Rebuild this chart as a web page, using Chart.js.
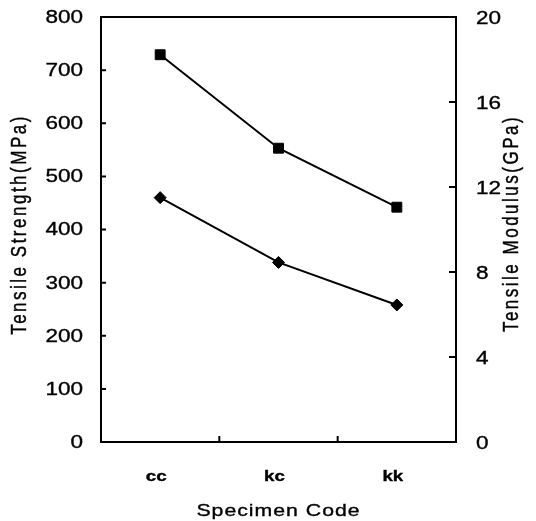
<!DOCTYPE html>
<html>
<head>
<meta charset="utf-8">
<script src="https://cdn.jsdelivr.net/npm/chart.js@4.4.1/dist/chart.umd.min.js"></script>
<style>
  html, body { margin: 0; padding: 0; background: #fff; }
  #wrap { width: 536px; height: 521px; }
</style>
</head>
<body>
<div id="wrap"><canvas id="tensile-chart" width="536" height="521"></canvas></div>
<script>
const SPECIMENS = ['cc', 'kc', 'kk'];
const STRENGTH_MPA = [729, 553, 442];
const MODULUS_GPA = [11.5, 8.45, 6.45];
const STRENGTH_TICKS = [0, 100, 200, 300, 400, 500, 600, 700, 800];
const MODULUS_TICKS = [0, 4, 8, 12, 16, 20];

const X_TITLE = 'Specimen Code';
const LEFT_TITLE = 'Tensile Strength(MPa)';
const RIGHT_TITLE = 'Tensile Modulus(GPa)';

// the scanned original is a bit wider than it is tall, so text is stretched
const STRETCH = 1.25;
const FONT = '"Liberation Sans", Arial, sans-serif';

function drawText(ctx, text, x, y, opts) {
  ctx.save();
  ctx.translate(x, y);
  ctx.scale(STRETCH, 1);
  if (opts.rotate) ctx.rotate(-Math.PI / 2);
  ctx.font = opts.font;
  ctx.letterSpacing = opts.spacing || '0px';
  ctx.textAlign = opts.align || 'center';
  ctx.textBaseline = 'middle';
  ctx.fillStyle = '#000';
  ctx.strokeStyle = '#000';
  ctx.lineWidth = 0.35;
  ctx.fillText(text, 0, 0);
  ctx.strokeText(text, 0, 0);
  ctx.restore();
}

const axesPlugin = {
  id: 'scanAxes',
  afterDraw(chart) {
    const ctx = chart.ctx;
    const area = chart.chartArea;
    const x = chart.scales.x;
    const y = chart.scales.y;
    const y1 = chart.scales.y1;

    ctx.save();
    ctx.strokeStyle = '#000';
    ctx.lineWidth = 2;
    ctx.strokeRect(area.left, area.top, area.right - area.left, area.bottom - area.top);

    // inward tick marks
    ctx.beginPath();
    STRENGTH_TICKS.forEach((v) => {
      const py = y.getPixelForValue(v);
      ctx.moveTo(area.left, py);
      ctx.lineTo(area.left + 5, py);
    });
    MODULUS_TICKS.forEach((v) => {
      const py = y1.getPixelForValue(v);
      ctx.moveTo(area.right - 7, py);
      ctx.lineTo(area.right, py);
    });
    for (let i = 0; i < SPECIMENS.length - 1; i++) {
      const px = x.getPixelForValue(i + 0.5);
      ctx.moveTo(px, area.bottom);
      ctx.lineTo(px, area.bottom - 6);
    }
    ctx.stroke();
    ctx.restore();

    STRENGTH_TICKS.forEach((v) => {
      drawText(ctx, String(v), area.left - 18, y.getPixelForValue(v) + 1,
        { font: '18px ' + FONT, align: 'right' });
    });
    MODULUS_TICKS.forEach((v) => {
      drawText(ctx, String(v), area.right + 20, y1.getPixelForValue(v) + 2,
        { font: '18px ' + FONT, align: 'left' });
    });
    SPECIMENS.forEach((label, i) => {
      drawText(ctx, label, x.getPixelForValue(i) - 4, area.bottom + 35,
        { font: 'bold 15px ' + FONT });
    });

    const cy = (area.top + area.bottom) / 2;
    drawText(ctx, X_TITLE, (area.left + area.right) / 2, area.bottom + 69,
      { font: '17px ' + FONT, spacing: '0.8px' });
    drawText(ctx, LEFT_TITLE, 20, cy - 5,
      { font: '17px ' + FONT, spacing: '2.5px', rotate: true });
    drawText(ctx, RIGHT_TITLE, 512, cy - 6,
      { font: '17px ' + FONT, spacing: '2.5px', rotate: true });
  }
};

function hiddenAxis(extra) {
  return Object.assign({
    grid: { display: false, drawTicks: false },
    border: { display: false },
    ticks: { display: false },
    title: { display: false }
  }, extra);
}

new Chart(document.getElementById('tensile-chart'), {
  type: 'line',
  data: {
    labels: SPECIMENS,
    datasets: [
      {
        label: LEFT_TITLE,
        data: STRENGTH_MPA,
        yAxisID: 'y',
        borderColor: '#000',
        borderWidth: 2,
        pointStyle: 'rect',
        pointRadius: 7,
        pointBackgroundColor: '#000',
        pointBorderColor: '#000',
        pointBorderWidth: 1,
        tension: 0
      },
      {
        label: RIGHT_TITLE,
        data: MODULUS_GPA,
        yAxisID: 'y1',
        borderColor: '#000',
        borderWidth: 2,
        pointStyle: 'rectRot',
        pointRadius: 6,
        pointBackgroundColor: '#000',
        pointBorderColor: '#000',
        pointBorderWidth: 1,
        tension: 0
      }
    ]
  },
  options: {
    responsive: false,
    animation: false,
    layout: { padding: { left: 101, right: 80, top: 17, bottom: 79 } },
    plugins: {
      legend: { display: false },
      tooltip: { enabled: false }
    },
    scales: {
      x: hiddenAxis({ offset: true, afterFit(s) { s.height = 0; } }),
      y: hiddenAxis({
        position: 'left',
        min: STRENGTH_TICKS[0],
        max: STRENGTH_TICKS[STRENGTH_TICKS.length - 1],
        afterFit(s) { s.width = 0; }
      }),
      y1: hiddenAxis({
        position: 'right',
        min: MODULUS_TICKS[0],
        max: MODULUS_TICKS[MODULUS_TICKS.length - 1],
        afterFit(s) { s.width = 0; }
      })
    }
  },
  plugins: [axesPlugin]
});
</script>
</body>
</html>
